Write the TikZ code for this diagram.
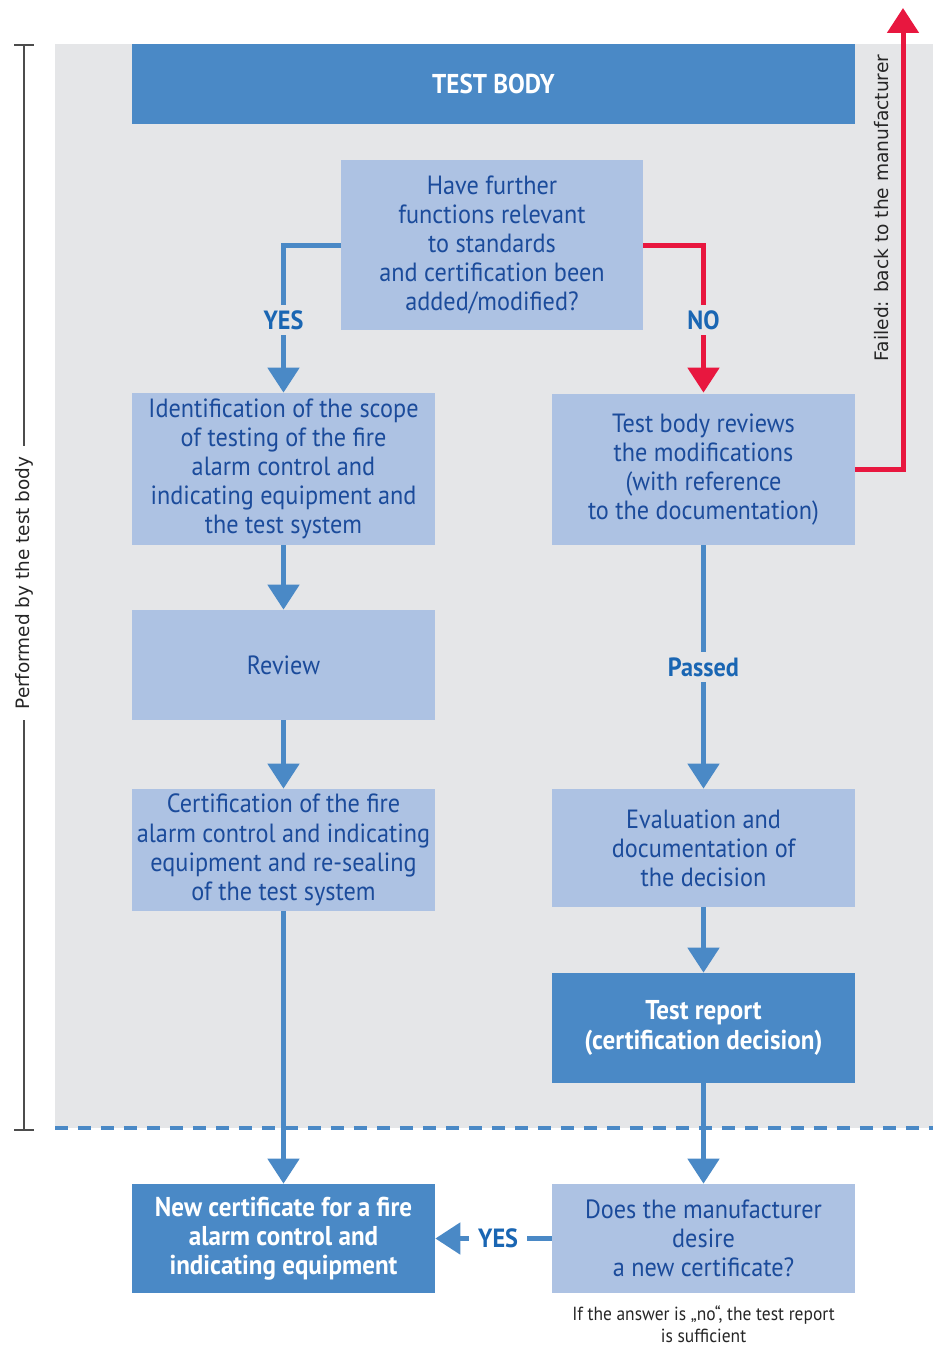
\documentclass[tikz,border=0pt]{standalone}
\usepackage{fontspec}
\setmainfont{PT Sans}[FakeStretch=0.92]
\newfontfamily\sidefont{DejaVu Sans}
\usepackage{tikz}
\usetikzlibrary{
	positioning,
	arrows.meta
}
\definecolor{boxdark}{HTML}{4A89C6}
\definecolor{boxlight}{HTML}{ADC2E3}
\definecolor{bggrey}{HTML}{E5E6E8}
\definecolor{txtblue}{HTML}{1B4B9B}
\definecolor{lblblue}{HTML}{1A66B3}
\definecolor{failred}{HTML}{E8173F}

\begin{document}
\begin{tikzpicture}[
	x=0.02cm, y=-0.02cm,
	box/.style={rectangle, fill=boxlight, text=txtblue, minimum width=6.06cm,
		align=center, inner sep=2pt, font=\fontsize{15}{16.6}\selectfont},
	darkbox/.style={box, fill=boxdark, text=white, font=\fontsize{15.5}{16.6}\selectfont\bfseries},
	flow/.style={draw=boxdark, line width=0.1cm, -{Triangle[width=0.62cm,length=0.5cm]}},
	fail/.style={flow, draw=failred, -{Triangle[width=0.62cm,length=0.5cm]}},
	answer/.style={fill=bggrey, text=lblblue, inner sep=3pt, font=\fontsize{15}{16}\selectfont\bfseries}
]
	\useasboundingbox (0,0) rectangle (933,1348);
	\fill[bggrey] (55,44) rectangle (933,1128);

	\path
		node [darkbox,minimum width=14.46cm,minimum height=1.6cm] (body)     at (493.5,84)   {TEST BODY}
		node [box,minimum width=6.04cm,minimum height=3.4cm]     (question) at (492,245)    {Have further\\functions relevant\\to standards\\and certification been\\added/modified?}
		node [box,minimum height=3.04cm]                         (ident)    at (283.5,469)  {Identification of the scope\\of testing of the fire\\alarm control and\\indicating equipment and\\the test system}
		node [box,minimum height=3.02cm]                         (reviews)  at (703.5,469.5){Test body reviews\\the modifications\\(with reference\\to the documentation)}
		node [box,minimum height=2.2cm]                          (review)   at (283.5,665)  {Review}
		node [box,minimum height=2.44cm]                         (certif)   at (283.5,850)  {Certification of the fire\\alarm control and indicating\\equipment and re-sealing\\of the test system}
		node [box,minimum height=2.36cm]                         (eval)     at (703.5,848)  {Evaluation and\\documentation of\\the decision}
		node [darkbox,minimum height=2.2cm]                      (report)   at (703.5,1028) {Test report\\(certification decision)}
		node [darkbox,minimum height=2.18cm]                     (newcert)  at (283.5,1238.5) {New certificate for a fire\\alarm control and\\indicating equipment}
		node [box,minimum height=2.18cm]                         (desire)   at (703.5,1238.5) {Does the manufacturer\\desire\\a new certificate?}
		node [text=black!85,align=center,font=\fontsize{10.8}{12.6}\selectfont] (note) at (703.5,1324) {If the answer is „no“, the test report\\is sufficient}
	;

	% dashed border of the test body area
	\draw[boxdark,line width=0.08cm,dash pattern=on 0.26cm off 0.2cm] (55,1128) -- (933,1128);

	% bracket on the left
	\coordinate (brtop) at (24,45);
	\coordinate (brbot) at (24,1130);
	\draw[black!70,line width=0.6pt] (brtop) -- (brbot)
		(14,45) -- (34,45) (14,1130) -- (34,1130);
	\node[fill=white,rotate=90,text=black!85,inner sep=6pt,font=\sidefont\fontsize{10.5}{12}\selectfont] (performed) at (24,583) {Performed by the test body};

	% arrows
	\draw[flow] (question.west) -| node[answer,pos=0.755] {YES} (ident.north);
	\draw[fail] (question.east) -| node[answer,pos=0.755] {NO} (ident.north -| reviews.north);
	\coordinate (failtop) at (903,8);
	\draw[fail] (reviews.east) -| (failtop);
	\node[rotate=90,text=black!85,font=\sidefont\fontsize{10.6}{12}\selectfont] (failed) at (882,208) {Failed: back to the manufacturer};
	\draw[flow] (ident) -- (review);
	\draw[flow] (review) -- (certif);
	\draw[flow] (certif) -- (newcert);
	\draw[flow] (reviews) -- node[answer] {Passed} (eval);
	\draw[flow] (eval) -- (report);
	\draw[flow] (report) -- (desire);
	\draw[flow] (desire) -- node[answer,fill=white,inner sep=5pt,pos=0.46] {YES} (newcert);
\end{tikzpicture}
\end{document}
